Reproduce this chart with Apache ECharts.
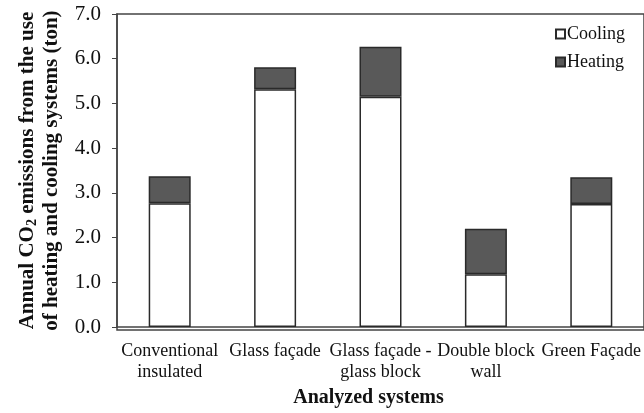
<!DOCTYPE html>
<html>
<head>
<meta charset="utf-8">
<script src="https://cdn.jsdelivr.net/npm/echarts@6/dist/echarts.min.js"></script>
<style>html,body{margin:0;padding:0;background:#fff}#c{width:644px;height:413px}</style>
</head>
<body>
<div id="c"></div>
<script>
const categories = ['Conventional\ninsulated', 'Glass façade', 'Glass façade -\nglass block', 'Double block\nwall', 'Green Façade'];
const cooling = [2.77, 5.32, 5.15, 1.18, 2.75];
const heating = [0.60, 0.49, 1.12, 1.02, 0.60];
const yTicks = { min: 0, max: 7, interval: 1 };

const font = 'Liberation Serif';
const chart = echarts.init(document.getElementById('c'), null, { renderer: 'canvas' });
chart.setOption({
  backgroundColor: '#fff',
  animation: false,
  textStyle: { fontFamily: font },
  legend: {
    orient: 'vertical', left: 550, top: 20, itemWidth: 9, itemHeight: 9, itemGap: 10,
    icon: 'rect',
    textStyle: { fontFamily: font, fontSize: 18, color: '#111', padding: [0, 0, 0, -3] },
    data: ['Cooling', 'Heating']
  },
  grid: [
    { left: 117, top: 14, width: 530, bottom: 83, show: false },
    { left: 117, top: 14, right: -20, bottom: 83, show: true, borderColor: '#444', borderWidth: 1.5, backgroundColor: 'transparent' }
  ],
  xAxis: [
    {
      type: 'category', data: categories, gridIndex: 0,
      axisLine: { show: true, lineStyle: { color: '#444', width: 1.5 } },
      axisTick: { show: false },
      axisLabel: { interval: 0, fontFamily: font, fontSize: 18, color: '#111', lineHeight: 21, margin: 14 },
      name: 'Analyzed systems', nameLocation: 'middle', nameGap: 55,
      nameTextStyle: { fontFamily: font, fontSize: 20, fontWeight: 'bold', color: '#111', padding: [0, 24, 0, 0] }
    },
    { type: 'category', gridIndex: 1, show: false, data: [''] }
  ],
  yAxis: [
    {
      type: 'value', gridIndex: 0, min: yTicks.min, max: yTicks.max, interval: yTicks.interval,
      axisLine: { show: true, lineStyle: { color: '#444', width: 1.5 } },
      axisTick: { show: true, length: 5, lineStyle: { color: '#444' } },
      splitLine: { show: false },
      axisLabel: { fontFamily: font, fontSize: 21, color: '#111', margin: 16, formatter: v => v.toFixed(1) },
      name: 'Annual CO{sub|2} emissions from the use\nof heating and cooling systems (ton)',
      nameLocation: 'middle', nameGap: 47, nameRotate: 90,
      nameTextStyle: {
        fontFamily: font, fontSize: 21, fontWeight: 'bold', color: '#111', lineHeight: 24,
        rich: { sub: { fontFamily: font, fontSize: 14, fontWeight: 'bold', color: '#111', verticalAlign: 'bottom', padding: [9, 0, 0, 0] } }
      }
    },
    { type: 'value', gridIndex: 1, show: false, min: 0, max: 1 }
  ],
  series: [
    {
      name: 'Cooling', type: 'bar', stack: 'a', data: cooling, barWidth: 42,
      itemStyle: { color: '#fff', borderColor: '#2a2a2a', borderWidth: 1.5 }
    },
    {
      name: 'Heating', type: 'bar', stack: 'a', data: heating, barWidth: 42,
      itemStyle: { color: '#595959', borderColor: '#2a2a2a', borderWidth: 1.5 }
    }
  ]
});
</script>
</body>
</html>
